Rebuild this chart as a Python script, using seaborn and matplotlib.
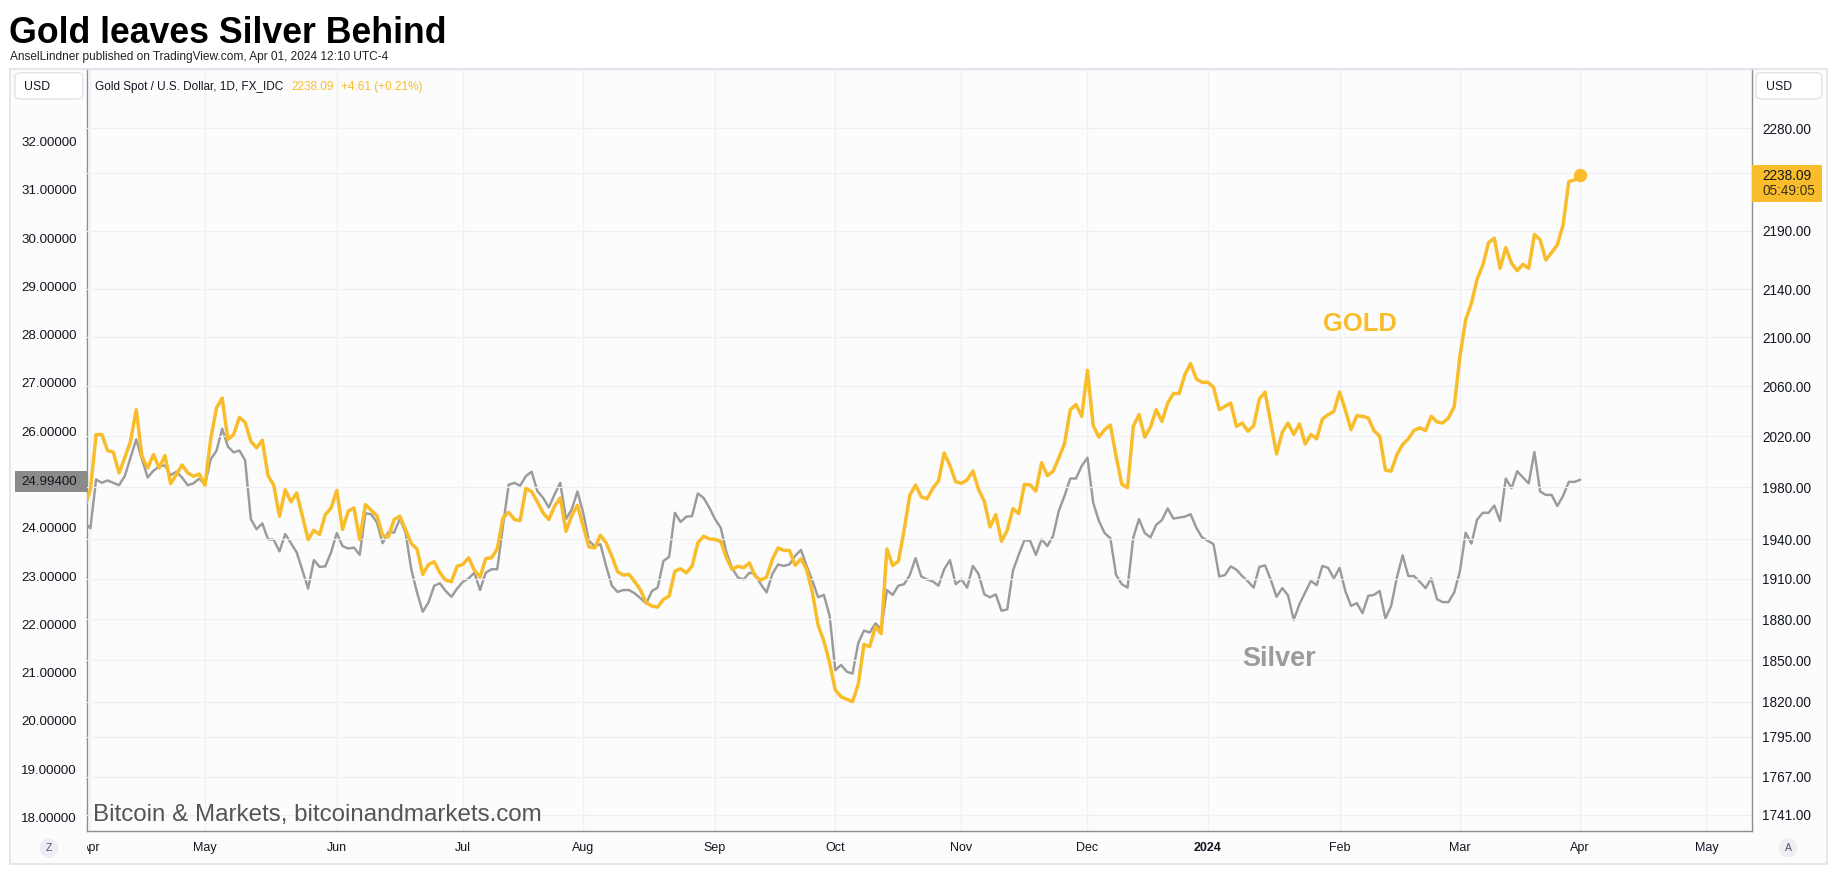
import numpy as np
import pandas as pd
import matplotlib
matplotlib.use("Agg")
import matplotlib.pyplot as plt
import seaborn as sns
from matplotlib.patches import Rectangle, FancyBboxPatch, Ellipse
from matplotlib.transforms import Bbox, TransformedBbox, blended_transform_factory
from matplotlib.ticker import FixedLocator, FuncFormatter, NullLocator

# ---------------- data (daily closes, 31 Mar 2023 -> 1 Apr 2024, business days) ----------------
start_date = "2023-03-31"
end_date = "2024-04-01"

gold = [
    1965, 1978, 2021.4, 2021.4, 2008.7, 2007.4, 1991.1, 2003, 2016, 2041.2,
    2004.2, 1995, 2005.5, 1995, 2004.8, 1982.8, 1989.8, 1997.4, 1991.1, 1988.5,
    1990.3, 1981.5, 2017.9, 2042.5, 2050.6, 2017.4, 2021.4, 2035.1, 2031.1, 2016.1,
    2010.8, 2016.9, 1989, 1981.5, 1957.5, 1978, 1968.6, 1975.5, 1957.5, 1939.7,
    1946.8, 1943.5, 1958.8, 1963.9, 1977.5, 1947.3, 1961.4, 1963.9, 1939.7, 1966.5,
    1962.1, 1958, 1942.8, 1941.7, 1955, 1957.5, 1947.3, 1936.6, 1932.5, 1913.3,
    1920.8, 1922.8, 1914.5, 1909.0, 1907.8, 1919.5, 1920.8, 1925.8, 1916.5, 1911.3,
    1925.3, 1925.8, 1932.5, 1956.3, 1960.6, 1955, 1954.2, 1979.1, 1976.5, 1968.6,
    1960.1, 1955, 1965.2, 1971.7, 1946, 1958, 1966, 1949.9, 1934.1, 1933.3,
    1943, 1937.1, 1927.1, 1915.3, 1912.8, 1913.3, 1907.8, 1901.6, 1892.1, 1889.6,
    1888.9, 1894.6, 1897.1, 1915.8, 1917.5, 1914.5, 1919.5, 1937.1, 1942.2, 1940.2,
    1939.7, 1938.4, 1925.8, 1917, 1919.5, 1918.3, 1922, 1912, 1909, 1911.3,
    1924.5, 1933.3, 1931.5, 1931.3, 1920, 1925, 1917, 1899.6, 1875.4, 1863.9,
    1848.1, 1828.3, 1823.5, 1821.7, 1820, 1832.4, 1861.4, 1859.7, 1874.4, 1869.3,
    1932.5, 1920, 1923.2, 1946.8, 1973.8, 1981.7, 1972.5, 1970.9, 1979.1, 1984.8,
    2006.8, 1996.9, 1984.3, 1983, 1985.6, 1992.6, 1978.2, 1969.1, 1949.3, 1958.8,
    1938.4, 1946.8, 1963.4, 1959.5, 1982.2, 1981.7, 1977, 1999.1, 1989, 1992.4,
    2003, 2014.2, 2041.2, 2045.3, 2035.9, 2073, 2028.4, 2019.3, 2025.3, 2029,
    2004.2, 1982.2, 1979.6, 2027.9, 2037.3, 2019.3, 2027.4, 2041.2, 2031.8, 2046.6,
    2054.2, 2054.2, 2069.5, 2078.5, 2066, 2063.3, 2063.3, 2059.3, 2041.2, 2043.9,
    2046.6, 2027.9, 2030.5, 2024, 2028.4, 2049.9, 2055.3, 2030.5, 2006, 2023.2,
    2030.5, 2021.4, 2029.9, 2013.8, 2021.4, 2018, 2033.8, 2037.2, 2039.9, 2055.4,
    2041, 2025.3, 2036.4, 2035.9, 2034.6, 2024.5, 2020, 1993.3, 1992.5, 2005.5,
    2013.5, 2018, 2024.8, 2026.7, 2024.5, 2035.9, 2031.4, 2030.6, 2034.6, 2043.7,
    2084.4, 2114.6, 2128.4, 2148.7, 2160.6, 2179.8, 2183.5, 2157.8, 2175.5, 2162.1,
    2155.8, 2161.2, 2157.8, 2186.7, 2182.1, 2164.9, 2171.2, 2177.8, 2194.9, 2232.6,
    2234, 2238.09,
]

silver = [
    24.11, 23.99, 25.00, 24.93, 24.98, 24.93, 24.88, 25.07, 25.45, 25.83,
    25.42, 25.04, 25.18, 25.27, 25.29, 25.09, 25.16, 25.04, 24.88, 24.92,
    25.02, 24.89, 25.42, 25.59, 26.05, 25.68, 25.56, 25.60, 25.40, 24.18,
    23.97, 24.09, 23.76, 23.75, 23.51, 23.87, 23.68, 23.49, 23.12, 22.74,
    23.33, 23.19, 23.20, 23.49, 23.89, 23.62, 23.57, 23.59, 23.44, 24.30,
    24.28, 24.11, 23.68, 23.91, 23.90, 24.18, 23.90, 23.14, 22.66, 22.26,
    22.45, 22.80, 22.85, 22.69, 22.57, 22.74, 22.88, 22.95, 23.07, 22.71,
    23.07, 23.14, 23.14, 24.04, 24.89, 24.93, 24.87, 25.07, 25.16, 24.76,
    24.62, 24.42, 24.69, 24.93, 24.18, 24.38, 24.75, 24.31, 23.73, 23.62,
    23.66, 23.21, 22.80, 22.67, 22.71, 22.71, 22.64, 22.54, 22.43, 22.69,
    22.76, 23.31, 23.40, 24.31, 24.12, 24.23, 24.24, 24.71, 24.62, 24.42,
    24.18, 24.00, 23.49, 23.16, 22.97, 22.93, 23.07, 23.04, 22.83, 22.66,
    23.04, 23.24, 23.21, 23.24, 23.42, 23.54, 23.21, 22.90, 22.56, 22.61,
    22.18, 21.05, 21.16, 21.02, 20.98, 21.61, 21.87, 21.83, 22.02, 21.90,
    22.71, 22.61, 22.80, 22.83, 23.02, 23.37, 22.99, 22.93, 22.89, 22.80,
    23.14, 23.33, 22.83, 22.93, 22.76, 23.21, 23.04, 22.62, 22.56, 22.62,
    22.28, 22.31, 23.11, 23.44, 23.74, 23.73, 23.44, 23.76, 23.62, 23.83,
    24.35, 24.66, 25.02, 25.02, 25.28, 25.45, 24.52, 24.14, 23.89, 23.78,
    23.02, 22.83, 22.76, 23.80, 24.18, 23.89, 23.80, 24.06, 24.16, 24.40,
    24.19, 24.21, 24.23, 24.28, 24.00, 23.80, 23.73, 23.66, 22.99, 23.02,
    23.20, 23.13, 23.00, 22.89, 22.76, 23.19, 23.22, 22.92, 22.57, 22.75,
    22.60, 22.09, 22.42, 22.66, 22.90, 22.81, 23.21, 23.17, 22.95, 23.17,
    22.69, 22.38, 22.44, 22.23, 22.59, 22.61, 22.69, 22.12, 22.38, 22.97,
    23.43, 23.00, 23.00, 22.88, 22.75, 22.95, 22.52, 22.46, 22.46, 22.66,
    23.10, 23.90, 23.67, 24.17, 24.31, 24.31, 24.46, 24.14, 25.02, 24.82,
    25.17, 25.04, 24.92, 25.57, 24.75, 24.68, 24.68, 24.45, 24.66, 24.95,
    24.95, 24.994,
]

silver_ticks = [18, 19, 20, 21, 22, 23, 24, 26, 27, 28, 29, 30, 31, 32]
gold_ticks = [1741, 1767, 1795, 1820, 1850, 1880, 1910, 1940, 1980, 2020,
              2060, 2100, 2140, 2190, 2240, 2280]
month_names = {1: "2024", 2: "Feb", 3: "Mar", 4: "Apr", 5: "May", 6: "Jun",
               7: "Jul", 8: "Aug", 9: "Sep", 10: "Oct", 11: "Nov", 12: "Dec"}

title = "Gold leaves Silver Behind"
subtitle = "AnselLindner published on TradingView.com, Apr 01, 2024 12:10 UTC-4"
header = "Gold Spot / U.S. Dollar, 1D, FX_IDC"
change_text = "+4.61 (+0.21%)"
timer_text = "05:49:05"
watermark = "Bitcoin & Markets, bitcoinandmarkets.com"

# ---------------- frame ----------------
dates = pd.bdate_range(start_date, end_date)
df = pd.DataFrame({"date": dates, "gold": gold, "silver": silver})
df["bar"] = np.arange(len(df)) - 1          # bar 0 = first bar of April 2023

axis_dates = pd.bdate_range(start_date, "2024-05-31")
axis_bar = np.arange(len(axis_dates)) - 1
new_month = np.r_[True, axis_dates.month[1:] != axis_dates.month[:-1]]
tick_bars = [b for b, m in zip(axis_bar, new_month) if m and b >= 0]
tick_months = [d.month for d, b, m in zip(axis_dates, axis_bar, new_month) if m and b >= 0]

GOLD_C = "#F9BD2B"
SILVER_C = "#9B9B9B"
TXT = "#131722"
LINE_C = "#8a8d96"
BORDER = "#e0e3eb"
BG = "#fcfcfc"

sns.set_theme(style="white")
plt.rcParams["font.family"] = ["Liberation Sans", "DejaVu Sans"]

W, H = 1835, 875
fig = plt.figure(figsize=(W / 100, H / 100), dpi=100)
fig.patch.set_facecolor("white")


def fx(px):
    return px / W


def fy(py):
    return 1 - py / H


PLOT_L, PLOT_R, PLOT_T, PLOT_B = 87, 1752, 69, 831

# widget background
fig.add_artist(Rectangle((fx(10), fy(864)), fx(1827) - fx(10), fy(69) - fy(864),
                         transform=fig.transFigure, facecolor=BG, edgecolor=BORDER,
                         lw=1.2, zorder=0))

ax = fig.add_axes([fx(PLOT_L), fy(PLOT_B), fx(PLOT_R) - fx(PLOT_L), fy(PLOT_T) - fy(PLOT_B)])
ax.set_facecolor("none")
ax2 = ax.twinx()
ax2.set_facecolor("none")

sns.lineplot(data=df, x="bar", y="silver", ax=ax, color=SILVER_C, linewidth=1.75,
             zorder=3)
sns.lineplot(data=df, x="bar", y="gold", ax=ax2, color=GOLD_C, linewidth=2.5,
             zorder=4)
last = df.iloc[-1]
ax2.plot([last["bar"]], [last["gold"]], "o", color=GOLD_C, ms=8.6, zorder=5)

ax.set_xlim(-0.59, 289.97)
ax.set_ylim(17.72, 33.50)
ax2.set_yscale("log")
ax2.set_ylim(1729.8, 2333.6)

# y axes
ax.yaxis.set_major_locator(FixedLocator(silver_ticks))
ax.yaxis.set_major_formatter(FuncFormatter(lambda v, p: f"{v:.5f}"))
ax2.yaxis.set_major_locator(FixedLocator(gold_ticks))
ax2.yaxis.set_minor_locator(NullLocator())
ax2.yaxis.set_major_formatter(FuncFormatter(lambda v, p: "" if abs(v - 2240) < 1 else f"{v:.2f}"))
ax2.yaxis.set_minor_formatter(FuncFormatter(lambda v, p: ""))

ax.set_xticks(tick_bars)
ax.set_xticklabels(["" if m == 4 and b == 0 else month_names[m]
                    for b, m in zip(tick_bars, tick_months)])
for lab in ax.get_xticklabels():
    if lab.get_text() == "2024":
        lab.set_fontweight("bold")

ax.tick_params(axis="y", length=0, pad=7.2, labelsize=9.6, labelcolor=TXT)
ax2.tick_params(axis="y", length=0, pad=7.2, labelsize=9.8, labelcolor=TXT)
ax.tick_params(axis="x", length=0, pad=8.2, labelsize=9, labelcolor=TXT)
ax.set_xlabel("")
ax.set_ylabel("")
ax2.set_ylabel("")

ax.grid(axis="x", color="#eef0f4", lw=0.9)
ax.grid(axis="y", visible=False)
ax2.grid(axis="y", color="#eef0f4", lw=0.9)
ax2.grid(axis="x", visible=False)
ax.set_axisbelow(True)

for s in ["top", "right"]:
    ax.spines[s].set_visible(False)
ax.spines["left"].set_color(LINE_C)
ax.spines["left"].set_linewidth(1.0)
ax.spines["bottom"].set_color(LINE_C)
ax.spines["bottom"].set_linewidth(1.0)
for s in ["left", "bottom"]:
    ax2.spines[s].set_visible(False)
ax2.spines["top"].set_color(BORDER)
ax2.spines["top"].set_linewidth(1.0)
ax2.spines["right"].set_color(LINE_C)
ax2.spines["right"].set_linewidth(1.0)

# clipped "Apr" at the left edge of the time scale
trans_x = blended_transform_factory(ax.transData, fig.transFigure)
apr = fig.text(0, fy(848), "Apr", transform=trans_x, ha="center", va="center",
               fontsize=9, color=TXT)
apr.set_clip_box(TransformedBbox(Bbox.from_extents(fx(PLOT_L), 0, 1, 1), fig.transFigure))
apr.set_clip_on(True)

# ---------------- texts ----------------
fig.text(fx(9), fy(43), title, fontsize=25.7, fontweight="bold", color="black",
         ha="left", va="baseline")
fig.text(fx(10), fy(60), subtitle, fontsize=8.55, color="#222222", ha="left",
         va="baseline")

# header row
for x0, x1, tx in [(15, 82.7, 24), (1756, 1821.7, 1766)]:
    fig.add_artist(FancyBboxPatch((fx(x0), fy(99)), fx(x1) - fx(x0), fy(72.7) - fy(99),
                                  boxstyle="round,pad=0,rounding_size=0.004",
                                  transform=fig.transFigure, facecolor="white",
                                  edgecolor=BORDER, lw=1.0, zorder=5))
    fig.text(fx(tx), fy(90), "USD", fontsize=8.8, color=TXT, ha="left",
             va="baseline", zorder=6)

fig.text(fx(95), fy(90), header, fontsize=8.5, color=TXT, ha="left", va="baseline")
fig.text(fx(291), fy(90), f"{gold[-1]:.2f}", fontsize=8.5, color=GOLD_C,
         ha="left", va="baseline")
fig.text(fx(340.6), fy(90), change_text, fontsize=8.5, color=GOLD_C,
         ha="left", va="baseline")

# last-price labels on the scales
fig.add_artist(Rectangle((fx(15), fy(492)), fx(87) - fx(15), fy(471) - fy(492),
                         transform=fig.transFigure, facecolor="#8a8a8a",
                         edgecolor="none", zorder=5))
fig.text(fx(77), fy(482), f"{silver[-1]:.5f}", fontsize=9.6, color=TXT,
         ha="right", va="center", zorder=6)
fig.add_artist(Rectangle((fx(1752), fy(201.7)), fx(1822) - fx(1752), fy(165) - fy(201.7),
                         transform=fig.transFigure, facecolor=GOLD_C,
                         edgecolor="none", zorder=5))
fig.text(fx(1762), fy(176), f"{gold[-1]:.2f}", fontsize=9.8, color=TXT,
         ha="left", va="center", zorder=6)
fig.text(fx(1762), fy(191), timer_text, fontsize=9.8, color="#3a3220",
         ha="left", va="center", zorder=6)

# series labels
fig.text(fx(1322.7), fy(324), "GOLD", fontsize=18.4, fontweight="bold",
         color=GOLD_C, ha="left", va="center")
fig.text(fx(1242.7), fy(659), "Silver", fontsize=19.5, fontweight="bold",
         color=SILVER_C, ha="left", va="center")

# watermark
fig.text(fx(92.5), fy(815), watermark, fontsize=17.4, color="#555555",
         ha="left", va="center")

# bottom corner buttons
for cx, s in [(49, "Z"), (1788, "A")]:
    fig.add_artist(Ellipse((fx(cx), fy(848)), 19 / W, 19 / H, transform=fig.transFigure,
                           facecolor="#eceef3", edgecolor="none", zorder=5))
    fig.text(fx(cx), fy(848), s, fontsize=7.5, color="#50535e", ha="center",
             va="center", zorder=6)

fig.savefig("out.png", dpi=100, facecolor="white")
